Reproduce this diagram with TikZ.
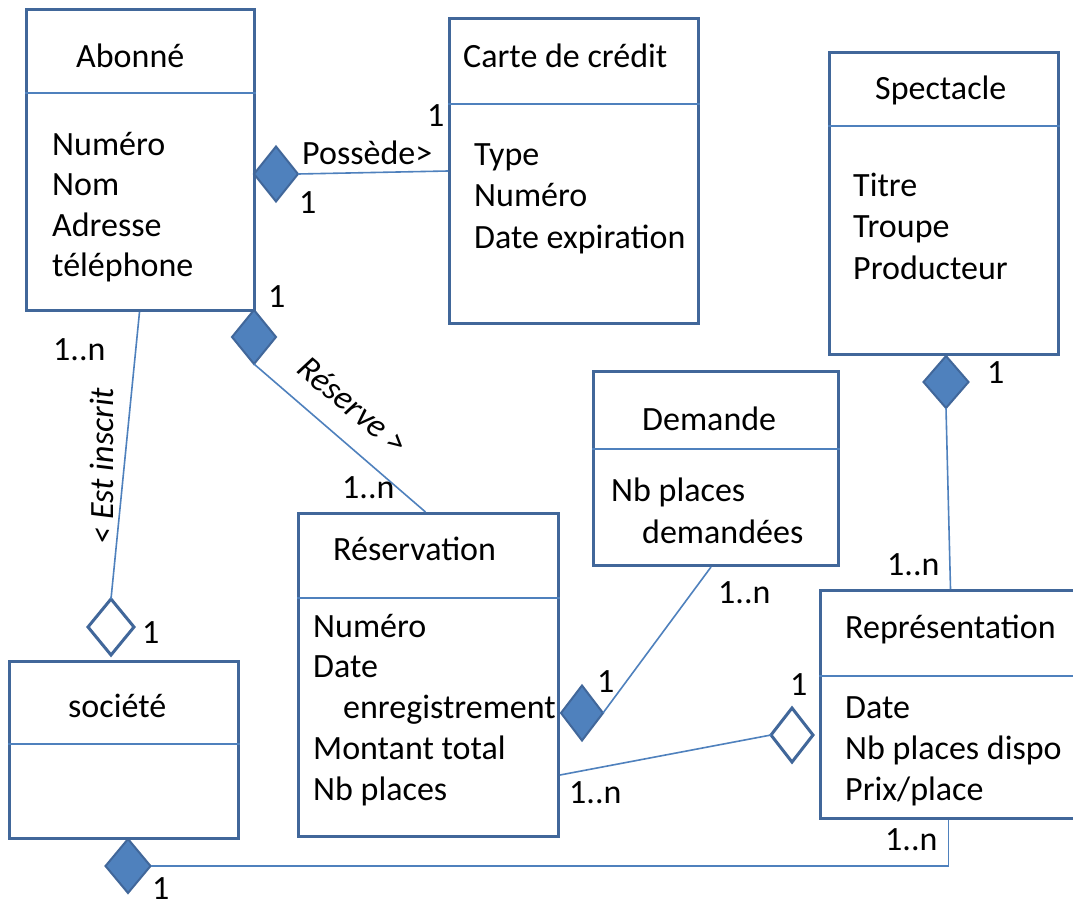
\documentclass[tikz,border=0pt]{standalone}
\usepackage{fontspec}
\setmainfont{Carlito}
\usetikzlibrary{shapes.geometric}
\definecolor{boxblue}{RGB}{65,103,154}
\definecolor{linkblue}{RGB}{79,129,189}
\tikzset{
  cls/.style={draw=boxblue, line width=3pt, rectangle, anchor=north west, inner sep=0pt},
  divider/.style={draw=linkblue, line width=1.5pt},
  link/.style={draw=linkblue, line width=1.6pt},
  txt/.style={inner sep=0pt, anchor=base west, text=black, font=\fontsize{34}{40}\selectfont},
  rolelabel/.style={inner sep=0pt, text=black, font=\fontsize{34}{40}\selectfont\itshape},
  compo/.style={shape=diamond, draw=boxblue, line width=2pt, fill=linkblue, inner sep=0pt, outer sep=0pt},
  aggreg/.style={shape=diamond, draw=boxblue, line width=3pt, fill=white, inner sep=0pt, outer sep=0pt},
}
\begin{document}
\begin{tikzpicture}[x=1pt, y=-1pt]
\clip (0,0) rectangle (1073,905);
\fill[white] (0,0) rectangle (1073,905);

% ---------- classes ----------
\node[cls, minimum width=228pt, minimum height=301pt] (abonne) at (25,8) {};
\draw[divider] (abonne.west |- 0,93) -- (abonne.east |- 0,93);
\node[txt] (abonne-t) at (76,67) {Abonné};
\node[txt] (abonne-a1) at (52,155) {Numéro};
\node[txt] (abonne-a2) at (52,195) {Nom};
\node[txt] (abonne-a3) at (52,236) {Adresse};
\node[txt] (abonne-a4) at (52,276) {téléphone};

\node[cls, minimum width=249pt, minimum height=305pt] (carte) at (448,17) {};
\draw[divider] (carte.west |- 0,104) -- (carte.east |- 0,104);
\node[txt] (carte-t) at (463,67) {Carte de crédit};
\node[txt] (carte-a1) at (474,165) {Type};
\node[txt] (carte-a2) at (474,206) {Numéro};
\node[txt] (carte-a3) at (474,248) {Date expiration};

\node[cls, minimum width=229pt, minimum height=302pt] (spect) at (828,51) {};
\draw[divider] (spect.west |- 0,126) -- (spect.east |- 0,126);
\node[txt] (spect-t) at (875,99) {Spectacle};
\node[txt] (spect-a1) at (853,196) {Titre};
\node[txt] (spect-a2) at (853,237) {Troupe};
\node[txt] (spect-a3) at (853,279) {Producteur};

\node[cls, minimum width=245pt, minimum height=194pt] (dem) at (592,370) {};
\draw[divider] (dem.west |- 0,449) -- (dem.east |- 0,449);
\node[txt] (dem-t) at (642,430) {Demande};
\node[txt] (dem-a1) at (611,501) {Nb places};
\node[txt] (dem-a2) at (642,543) {demandées};

\node[cls, minimum width=260pt, minimum height=323pt] (resa) at (297,512) {};
\draw[divider] (resa.west |- 0,598) -- (resa.east |- 0,598);
\node[txt] (resa-t) at (333,560) {Réservation};
\node[txt] (resa-a1) at (313,637) {Numéro};
\node[txt] (resa-a2) at (313,677) {Date};
\node[txt] (resa-a3) at (343,718) {enregistrement};
\node[txt] (resa-a4) at (313,759) {Montant total};
\node[txt] (resa-a5) at (313,800) {Nb places};

\node[cls, minimum width=260pt, minimum height=228pt] (repr) at (819,589) {};
\draw[divider] (repr.west |- 0,676) -- (repr.east |- 0,676);
\node[txt] (repr-t) at (845,638) {Représentation};
\node[txt] (repr-a1) at (845,718) {Date};
\node[txt] (repr-a2) at (845,759) {Nb places dispo};
\node[txt] (repr-a3) at (845,800) {Prix/place};

\node[cls, minimum width=229pt, minimum height=177pt] (soc) at (8,660) {};
\draw[divider] (soc.west |- 0,744) -- (soc.east |- 0,744);
\node[txt] (soc-t) at (68,717) {société};

% ---------- association ends ----------
\node[compo, minimum width=44pt, minimum height=55pt] (dposs) at (276,174) {};
\node[compo, minimum width=44pt, minimum height=54pt] (dres) at (254,337) {};
\node[aggreg, minimum width=46pt, minimum height=56pt] (dinscr) at (111,627) {};
\node[compo, minimum width=45pt, minimum height=54pt] (dsoc) at (128,866) {};
\node[compo, minimum width=42pt, minimum height=55pt] (ddem) at (582,713) {};
\node[aggreg, minimum width=42pt, minimum height=54pt] (drep) at (792,735) {};
\node[compo, minimum width=45pt, minimum height=52pt] (dspec) at (946,382) {};

% ---------- connectors ----------
\draw[link] (dposs.east) -- (carte.west);
\draw[link] (dres.south) -- ([xshift=-3pt]resa.north);
\draw[link] ([xshift=-1pt]abonne.south) -- (dinscr.north);
\draw[link] (dsoc.east) -| ([xshift=-2pt]repr.south);
\draw[link] (ddem.east) -- ([xshift=-5pt]dem.south);
\draw[link] (drep.west) -- ([yshift=-100pt]resa.east);
\draw[link] (dspec.south) -- (repr.north);

% ---------- labels ----------
\node[txt] (l-poss) at (302,164) {Possède>};
\node[txt] (m-poss-a) at (427,126) {1};
\node[txt] (m-poss-b) at (299,213) {1};

\node[rolelabel, rotate=-40] (l-res) at (353,405) {Réserve >};
\node[txt] (m-res-a) at (268,307) {1};
\node[txt] (m-res-b) at (342,498) {1..n};

\node[rolelabel, rotate=90] (l-inscr) at (102,466) {< Est inscrit};
\node[txt] (m-inscr-a) at (53,360) {1..n};
\node[txt] (m-inscr-b) at (142,643) {1};

\node[txt] (m-soc-a) at (152,899) {1};
\node[txt] (m-soc-b) at (885,850) {1..n};

\node[txt] (m-dem-a) at (597,692) {1};
\node[txt] (m-dem-b) at (718,603) {1..n};

\node[txt] (m-rep-a) at (790,695) {1};
\node[txt] (m-rep-b) at (569,803) {1..n};

\node[txt] (m-spec-a) at (987,383) {1};
\node[txt] (m-spec-b) at (887,575) {1..n};
\end{tikzpicture}
\end{document}
